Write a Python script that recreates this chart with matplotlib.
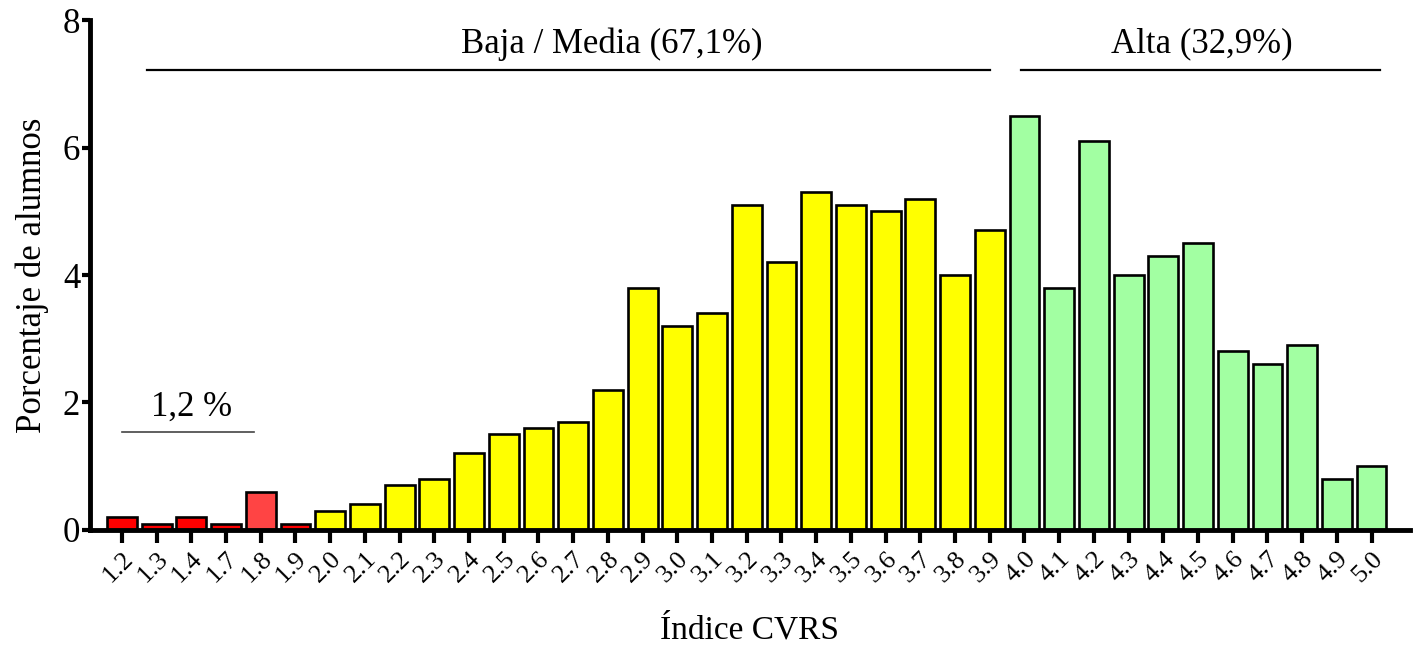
import matplotlib.pyplot as plt
import numpy as np

plt.rcParams["font.family"] = ["Liberation Serif", "DejaVu Serif"]

categories = ["1.2", "1.3", "1.4", "1.7", "1.8", "1.9", "2.0", "2.1", "2.2", "2.3",
              "2.4", "2.5", "2.6", "2.7", "2.8", "2.9", "3.0", "3.1", "3.2", "3.3",
              "3.4", "3.5", "3.6", "3.7", "3.8", "3.9", "4.0", "4.1", "4.2", "4.3",
              "4.4", "4.5", "4.6", "4.7", "4.8", "4.9", "5.0"]
percent = [0.2, 0.1, 0.2, 0.1, 0.6, 0.1, 0.3, 0.4, 0.7, 0.8,
           1.2, 1.5, 1.6, 1.7, 2.2, 3.8, 3.2, 3.4, 5.1, 4.2,
           5.3, 5.1, 5.0, 5.2, 4.0, 4.7, 6.5, 3.8, 6.1, 4.0,
           4.3, 4.5, 2.8, 2.6, 2.9, 0.8, 1.0]
group = ["low"] * 6 + ["mid"] * 20 + ["high"] * 11

group_colors = {"low": "#ff0000", "mid": "#ffff00", "high": "#a2ffa2"}
colors = [group_colors[g] for g in group]
colors[4] = "#ff4444"

x = np.arange(len(categories))

fig = plt.figure(figsize=(14.14, 6.46), dpi=100)
ax = fig.add_axes([0.0636, 0.1796, 0.9334, 0.7894])

ax.bar(x, percent, width=0.86, color=colors, edgecolor="black", linewidth=1.9)

ax.set_xlim(-0.92, 37.1)
ax.set_ylim(0, 8)
ax.set_yticks([0, 2, 4, 6, 8])
ax.set_xticks(x)
ax.set_xticklabels(categories, rotation=45, ha="right", va="top",
                   rotation_mode="anchor", fontsize=19)
ax.tick_params(axis="y", labelsize=25, length=6, width=3, pad=1)
ax.tick_params(axis="x", length=9, width=3, pad=4)

for side in ("top", "right"):
    ax.spines[side].set_visible(False)
for side in ("left", "bottom"):
    ax.spines[side].set_linewidth(3.5)

ax.set_ylabel("Porcentaje de alumnos", fontsize=25, labelpad=10)
ax.set_xlabel("Índice CVRS", fontsize=24, labelpad=20)

# group brackets
ax.plot([0.72, 25.0], [7.22, 7.22], color="black", lw=1.6, clip_on=False)
ax.text(14.1, 7.62, "Baja / Media (67,1%)", ha="center", va="center", fontsize=25)
ax.plot([25.9, 36.25], [7.22, 7.22], color="black", lw=1.6, clip_on=False)
ax.text(31.1, 7.62, "Alta (32,9%)", ha="center", va="center", fontsize=25)
ax.plot([0.0, 3.8], [1.54, 1.54], color="#444444", lw=1.2)
ax.text(2.0, 1.93, "1,2 %", ha="center", va="center", fontsize=25)

fig.savefig("out.png", dpi=100)
